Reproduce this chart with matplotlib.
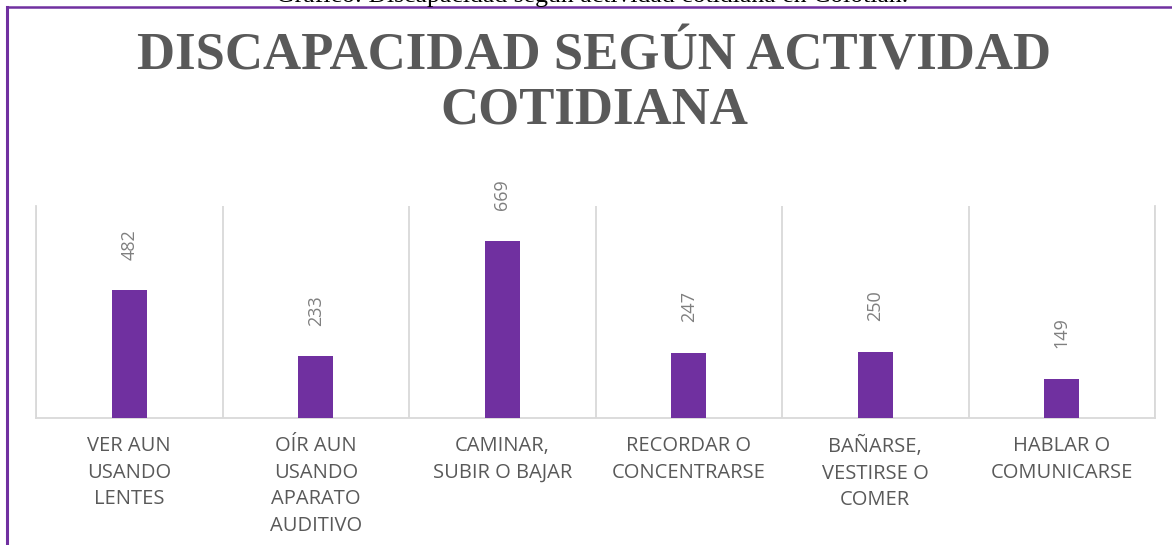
import matplotlib
matplotlib.use("Agg")
import matplotlib.pyplot as plt

categorias = ["VER AUN\nUSANDO\nLENTES", "OÍR AUN\nUSANDO\nAPARATO\nAUDITIVO",
              "CAMINAR,\nSUBIR O BAJAR", "RECORDAR O\nCONCENTRARSE",
              "BAÑARSE,\nVESTIRSE O\nCOMER", "HABLAR O\nCOMUNICARSE"]
valores = [482, 233, 669, 247, 250, 149]

morado = "#7030a0"
gris = "#595959"

fig = plt.figure(figsize=(11.72, 5.45), dpi=100)
ax = fig.add_axes([36/1172, 1-418/545, (1155-36)/1172, (418-206)/545])

x = range(len(valores))
bars = ax.bar(x, valores, width=0.19, color=morado, zorder=3)
for b, v in zip(bars, valores):
    ax.annotate(str(v), (b.get_x() + b.get_width()/2, v), xytext=(0, 22),
                textcoords="offset points", rotation=90, ha="center", va="bottom",
                fontsize=13, color="#7f7f7f", family="Open Sans")

ax.set_xlim(-0.5, len(valores) - 0.5)
ax.set_ylim(0, 800)
ax.set_yticks([])
ax.set_xticks(list(x))
ax.set_xticklabels(categorias, fontsize=14.5, color=gris, family="Open Sans",
                   linespacing=1.44)
ax.tick_params(axis="x", length=0, pad=13)
ax.set_xticks([i - 0.5 for i in range(len(valores) + 1)], minor=True)
ax.tick_params(axis="x", which="minor", length=0)
ax.grid(axis="x", which="minor", color="#d9d9d9", lw=1.3, zorder=0)
ax.spines["top"].set_visible(False)
for s in ["left", "right", "bottom"]:
    ax.spines[s].set_color("#d9d9d9")
    ax.spines[s].set_linewidth(1.3)

fig.text(0.507, 1-57/545, "DISCAPACIDAD SEGÚN ACTIVIDAD", ha="center", va="center",
         fontsize=38, fontweight="bold", family="Liberation Serif", color=gris)
fig.text(0.507, 1-110/545, "COTIDIANA", ha="center", va="center",
         fontsize=38, fontweight="bold", family="Liberation Serif", color=gris)

# pie de figura recortado en el borde superior
fig.text(0.505, 1-2/545, "Gráfico: Discapacidad según actividad cotidiana en Colotlán.",
         ha="center", va="baseline", fontsize=18.5, family="Liberation Serif", color="black")

# marco morado
fig.add_artist(plt.Line2D([6.5/1172, 6.5/1172], [0, 1-6.5/545], color=morado, lw=2.2,
                          transform=fig.transFigure))
fig.add_artist(plt.Line2D([6.5/1172, 1], [1-6.5/545, 1-6.5/545], color=morado, lw=1.8,
                          transform=fig.transFigure))

fig.savefig("out.png", dpi=100)
